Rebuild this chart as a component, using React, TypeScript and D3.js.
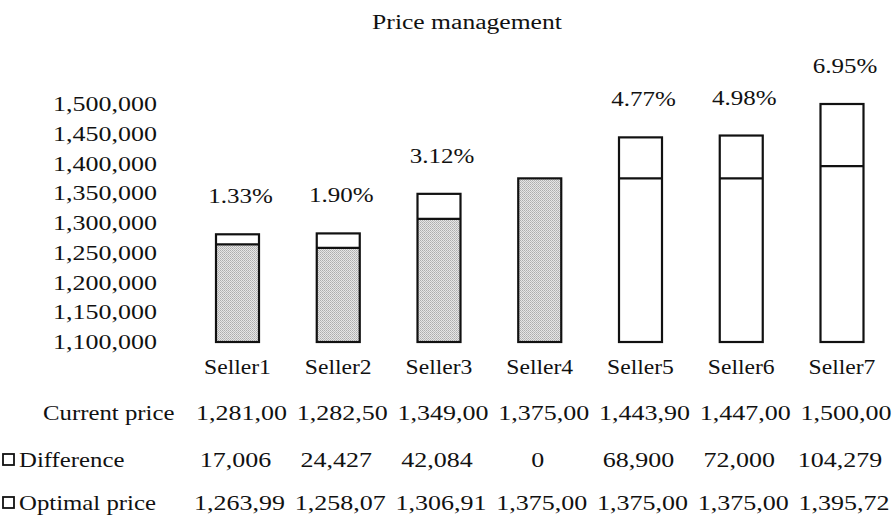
import React from 'react';
import * as d3 from 'd3';

// chart data
const sellers = ['Seller1', 'Seller2', 'Seller3', 'Seller4', 'Seller5', 'Seller6', 'Seller7'];
const currentPrice = [1281000, 1282500, 1349000, 1375000, 1443900, 1447000, 1500000];
const optimalPrice = [1263990, 1258070, 1306910, 1375000, 1375000, 1375000, 1395720];
const difference = [17006, 24427, 42084, 0, 68900, 72000, 104279];
const discountPct = [1.33, 1.9, 3.12, 0, 4.77, 4.98, 6.95];
const yTicks = [1100000, 1150000, 1200000, 1250000, 1300000, 1350000, 1400000, 1450000, 1500000];
// table text as printed in the source
const currentLabels = ['1,281,00', '1,282,50', '1,349,00', '1,375,00', '1,443,90', '1,447,00', '1,500,00'];
const optimalLabels = ['1,263,99', '1,258,07', '1,306,91', '1,375,00', '1,375,00', '1,375,00', '1,395,72'];

const W = 895;
const H = 520;
const FONT = '"Liberation Serif", "Times New Roman", serif';
const SX = 1.24; // the scan's type is stretched sideways

const Txt = ({ x, y, anchor = 'middle', children, sx = SX }: any) => (
  <g transform={`translate(${x},${y}) scale(${sx},1)`}>
    <text textAnchor={anchor} fontFamily={FONT} fontSize={20} fill="#111">
      {children}
    </text>
  </g>
);

const App = () => {
  const y = d3.scaleLinear().domain([1100000, 1500000]).range([342, 104]);
  const x = d3.scalePoint().domain(sellers).range([237.5, 842]);
  const barW = 43;
  const base = y(1100000);
  const fmt = d3.format(',');

  return (
    <svg width={W} height={H} style={{ position: 'absolute', left: 0, top: 0, background: '#fff' }}>
      <defs>
        <pattern id="stipple" width={2} height={2} patternUnits="userSpaceOnUse">
          <rect width={2} height={2} fill="#e6e6e6" />
          <rect width={1} height={1} fill="#adadad" />
          <rect x={1} y={1} width={1} height={1} fill="#bcbcbc" />
        </pattern>
      </defs>

      {/* title */}
      <Txt x={467} y={29} sx={1.28}>Price management</Txt>

      {/* y axis labels */}
      {yTicks.map(t => (
        <Txt key={t} x={157} y={y(t) + 7} anchor="end" sx={1.3}>{fmt(t)}</Txt>
      ))}

      {/* bars */}
      {sellers.map((s, i) => {
        const cx = x(s) as number;
        const left = cx - barW / 2;
        const yCur = y(currentPrice[i]);
        const yOpt = y(optimalPrice[i]);
        const shaded = discountPct[i] < 4;
        return (
          <g key={s}>
            <rect x={left} y={yOpt} width={barW} height={base - yOpt}
              fill={shaded ? 'url(#stipple)' : '#fff'} />
            <rect x={left} y={yCur} width={barW} height={base - yCur}
              fill="none" stroke="#111" strokeWidth={2.2} />
            {difference[i] > 0 && (
              <line x1={left} x2={left + barW} y1={yOpt} y2={yOpt} stroke="#111" strokeWidth={2.2} />
            )}
            {discountPct[i] > 0 && (
              <Txt x={cx + 3} y={yCur - 31} sx={1.25}>{discountPct[i].toFixed(2) + '%'}</Txt>
            )}
            <Txt x={cx} y={374} sx={1.18}>{s}</Txt>
            <Txt x={cx + 4} y={420} sx={1.3}>{currentLabels[i]}</Txt>
            <Txt x={cx - 2} y={467} sx={1.3}>{fmt(difference[i])}</Txt>
            <Txt x={cx + 2} y={510} sx={1.3}>{optimalLabels[i]}</Txt>
          </g>
        );
      })}

      {/* table row labels */}
      <Txt x={43} y={420} anchor="start">Current price</Txt>
      <rect x={3} y={454} width={11} height={11} fill="#fff" stroke="#111" strokeWidth={1.8} />
      <Txt x={19} y={467} anchor="start">Difference</Txt>
      <rect x={3} y={497} width={11} height={11} fill="#fff" stroke="#111" strokeWidth={1.8} />
      <Txt x={19} y={510} anchor="start">Optimal price</Txt>
    </svg>
  );
};

export default App;
